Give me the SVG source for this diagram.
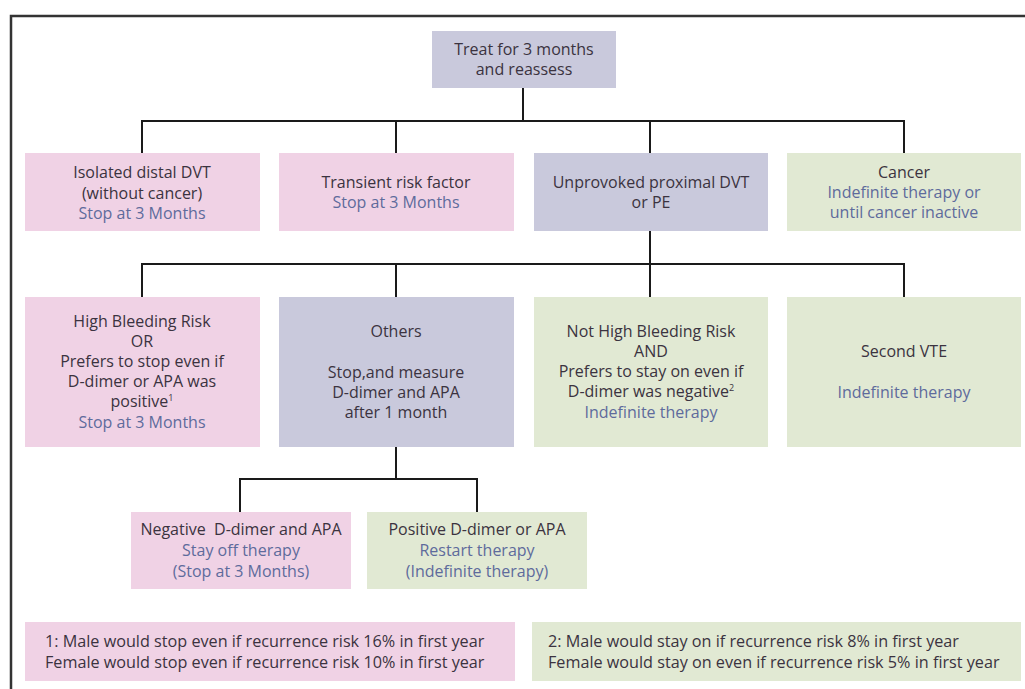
<svg xmlns="http://www.w3.org/2000/svg" width="1025" height="689" viewBox="0 0 1025 689">
<style>
text{font-family:"Open Sans",Lato,"Liberation Sans",sans-serif;font-size:16px;fill:#3b3340;text-anchor:middle}
.b{fill:#5e6b9c}
.l{text-anchor:start;font-size:16.2px}
.pink{fill:#f0d2e5}
.lav{fill:#c9c9dc}
.grn{fill:#e1e9d3}
.c{fill:none;stroke:#1a1a1a;stroke-width:2}
.sup{font-size:9px}
</style>
<rect width="1025" height="689" fill="#fff"/>
<path d="M11,689 V16 H1025" fill="none" stroke="#333" stroke-width="2.5"/>
<g id="connectors">
<path class="c" d="M523,88 V121 M142,153 V121 H904 V153 M396,121 V153 M650,121 V153"/>
<path class="c" d="M650,231 V264 M142,297 V264 H904 V297 M396,264 V297 M650,264 V297"/>
<path class="c" d="M396,447 V479 M240,512 V479 H477 V512"/>
</g>
<g id="n-top"><rect class="lav" x="432" y="31" width="184" height="57"/>
<text x="524" y="55">Treat for 3 months</text><text x="524" y="75">and reassess</text></g>
<g id="n-distal"><rect class="pink" x="25" y="153" width="235" height="78"/>
<text x="142" y="178">Isolated distal DVT</text><text x="142" y="199">(without cancer)</text><text class="b" x="142" y="219">Stop at 3 Months</text></g>
<g id="n-transient"><rect class="pink" x="279" y="153" width="235" height="78"/>
<text x="396" y="188">Transient risk factor</text><text class="b" x="396" y="208">Stop at 3 Months</text></g>
<g id="n-unprovoked"><rect class="lav" x="534" y="153" width="234" height="78"/>
<text x="651" y="188">Unprovoked proximal DVT</text><text x="651" y="208">or PE</text></g>
<g id="n-cancer"><rect class="grn" x="787" y="153" width="234" height="78"/>
<text x="904" y="178">Cancer</text><text class="b" x="904" y="198">Indefinite therapy or</text><text class="b" x="904" y="218">until cancer inactive</text></g>
<g id="n-highbleed"><rect class="pink" x="25" y="297" width="235" height="150"/>
<text x="142" y="327">High Bleeding Risk</text><text x="142" y="347">OR</text><text x="142" y="367">Prefers to stop even if</text><text x="142" y="387">D-dimer or APA was</text><text x="142" y="407">positive<tspan class="sup" dy="-6">1</tspan></text><text class="b" x="142" y="428">Stop at 3 Months</text></g>
<g id="n-others"><rect class="lav" x="279" y="297" width="235" height="150"/>
<text x="396" y="337">Others</text><text x="396" y="378">Stop,and measure</text><text x="396" y="398">D-dimer and APA</text><text x="396" y="418">after 1 month</text></g>
<g id="n-nothigh"><rect class="grn" x="534" y="297" width="234" height="150"/>
<text x="651" y="337">Not High Bleeding Risk</text><text x="651" y="357">AND</text><text x="651" y="377">Prefers to stay on even if</text><text x="651" y="397">D-dimer was negative<tspan class="sup" dy="-6">2</tspan></text><text class="b" x="651" y="418">Indefinite therapy</text></g>
<g id="n-second"><rect class="grn" x="787" y="297" width="234" height="150"/>
<text x="904" y="357">Second VTE</text><text class="b" x="904" y="398">Indefinite therapy</text></g>
<g id="n-negative"><rect class="pink" x="131" y="512" width="220" height="77"/>
<text x="241" y="535">Negative&#160; D-dimer and APA</text><text class="b" x="241" y="556">Stay off therapy</text><text class="b" x="241" y="577">(Stop at 3 Months)</text></g>
<g id="n-positive"><rect class="grn" x="367" y="512" width="220" height="77"/>
<text x="477" y="535">Positive D-dimer or APA</text><text class="b" x="477" y="556">Restart therapy</text><text class="b" x="477" y="577">(Indefinite therapy)</text></g>
<g id="n-note1"><rect class="pink" x="25" y="622" width="490" height="59"/>
<text class="l" x="45" y="647">1: Male would stop even if recurrence risk 16% in first year</text><text class="l" x="45" y="668">Female would stop even if recurrence risk 10% in first year</text></g>
<g id="n-note2"><rect class="grn" x="532" y="622" width="489" height="59"/>
<text class="l" x="548" y="647">2: Male would stay on if recurrence risk 8% in first year</text><text class="l" x="548" y="668">Female would stay on even if recurrence risk 5% in first year</text></g>
</svg>
